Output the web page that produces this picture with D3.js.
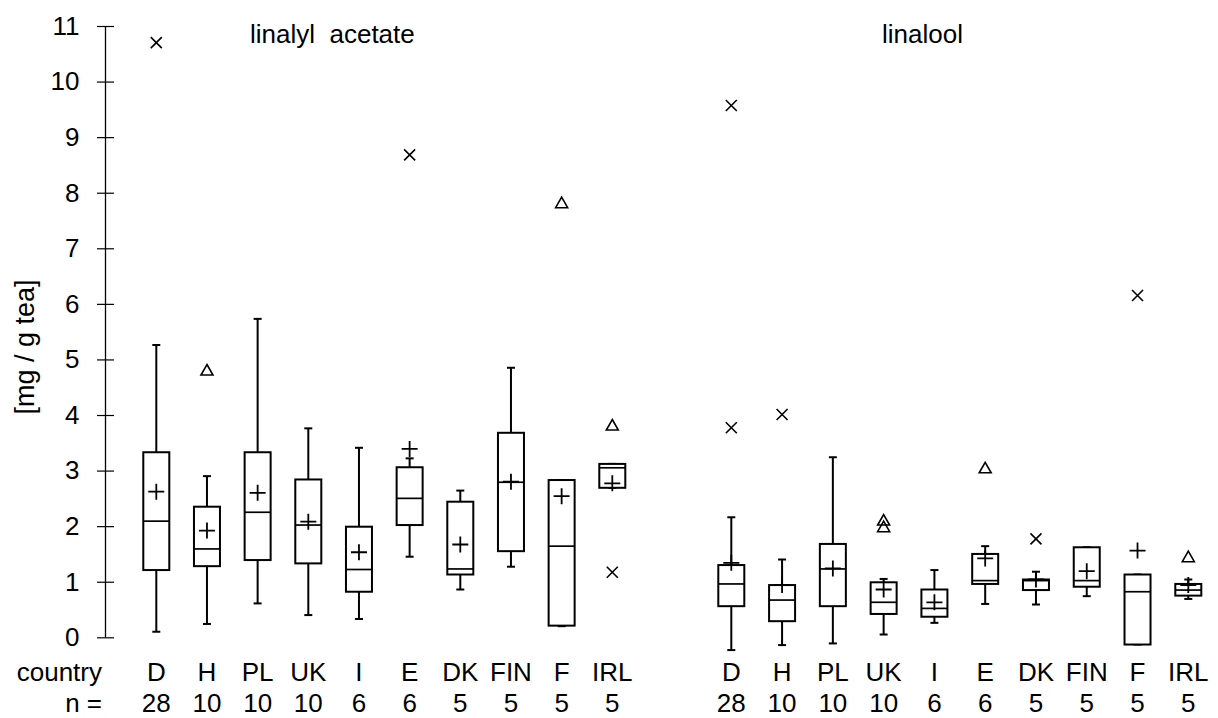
<!DOCTYPE html>
<html>
<head>
<meta charset="utf-8">
<script src="https://cdn.jsdelivr.net/npm/d3@7"></script>
<style>
  html, body { margin: 0; padding: 0; background: #fff; }
  svg { display: block; font-family: "Liberation Sans", Arial, sans-serif; }
</style>
</head>
<body>
<svg id="chart" width="1218" height="718"></svg>
<script>
// ---- data ----
const categories = ["D", "H", "PL", "UK", "I", "E", "DK", "FIN", "F", "IRL"];
const sampleSizes = [28, 10, 10, 10, 6, 6, 5, 5, 5, 5];
const yTicks = [0, 1, 2, 3, 4, 5, 6, 7, 8, 9, 10, 11];
const panelTitles = ["linalyl acetate", "linalool"];

// linalyl acetate
const acetateWhiskerLow  = [0.10, 0.24, 0.61, 0.40, 0.33, 1.45, 0.86, 1.27, 0.20, 2.69];
const acetateQ1          = [1.21, 1.28, 1.39, 1.33, 0.82, 2.02, 1.13, 1.55, 0.21, 2.69];
const acetateMedian      = [2.09, 1.59, 2.25, 2.02, 1.22, 2.50, 1.23, 2.79, 1.64, 3.05];
const acetateQ3          = [3.33, 2.35, 3.33, 2.84, 1.99, 3.06, 2.44, 3.68, 2.83, 3.12];
const acetateWhiskerHigh = [5.26, 2.90, 5.73, 3.76, 3.41, 3.22, 2.64, 4.85, 2.83, 3.12];
const acetateMean        = [2.62, 1.92, 2.60, 2.08, 1.53, 3.39, 1.67, 2.80, 2.54, 2.77];
const acetateCrosses     = [[10.70], [], [], [], [], [8.68], [], [], [], [1.17]];
const acetateTriangles   = [[], [4.81], [], [], [], [], [], [], [7.82], [3.82]];

// linalool
const linaloolWhiskerLow  = [-0.23, -0.14, -0.11, 0.05, 0.26, 0.60, 0.59, 0.74, -0.13, 0.69];
const linaloolQ1          = [0.56, 0.29, 0.56, 0.42, 0.37, 0.96, 0.85, 0.91, -0.13, 0.75];
const linaloolMedian      = [0.96, 0.67, 1.23, 0.63, 0.52, 1.02, 1.02, 1.02, 0.82, 0.85];
const linaloolQ3          = [1.30, 0.94, 1.68, 0.99, 0.86, 1.50, 1.04, 1.62, 1.13, 0.96];
const linaloolWhiskerHigh = [2.16, 1.40, 3.24, 1.05, 1.21, 1.64, 1.18, 1.62, 1.13, 1.04];
const linaloolMean        = [1.34, 0.94, 1.24, 0.86, 0.63, 1.42, 1.04, 1.19, 1.56, 0.94];
const linaloolCrosses     = [[9.57, 3.77], [4.01], [], [], [], [], [1.77], [], [6.15], []];
const linaloolTriangles   = [[], [], [], [2.11, 1.99], [], [3.05], [], [], [], [1.45]];

// ---- build ----
function buildPanel(low, q1, med, q3, high, mean, crosses, tris) {
  return categories.map((c, i) => ({
    cat: c, low: low[i], q1: q1[i], med: med[i], q3: q3[i], high: high[i],
    mean: mean[i], crosses: crosses[i], tris: tris[i]
  }));
}
const panels = [
  { title: panelTitles[0], titleX: 250, range: [156.3, 612.3],
    rows: buildPanel(acetateWhiskerLow, acetateQ1, acetateMedian, acetateQ3, acetateWhiskerHigh, acetateMean, acetateCrosses, acetateTriangles) },
  { title: panelTitles[1], titleX: 882, range: [731.3, 1188.3],
    rows: buildPanel(linaloolWhiskerLow, linaloolQ1, linaloolMedian, linaloolQ3, linaloolWhiskerHigh, linaloolMean, linaloolCrosses, linaloolTriangles) }
];

const svg = d3.select("#chart");
const y = d3.scaleLinear().domain([0, 11]).range([637.3, 26]);
const FS = 26;

// y axis
const axisX = 105.5;
const yAxis = d3.axisLeft(y).tickValues(yTicks).tickSize(0).tickPadding(26).tickFormat(d3.format("d"));
const ag = svg.append("g").attr("transform", `translate(${axisX},0)`).call(yAxis);
ag.select(".domain").attr("stroke", "#000").attr("stroke-width", 1.3).attr("d", `M0,${y(11)}V${y(0)}`);
ag.selectAll(".tick text").attr("font-size", FS).attr("font-family", "'Liberation Sans', Arial, sans-serif").attr("fill", "#000");
ag.selectAll(".tick").append("line").attr("x1", -8.5).attr("x2", 8.5).attr("stroke", "#000").attr("stroke-width", 1.2);

// y label
svg.append("text")
  .attr("transform", `translate(34,347) rotate(-90)`)
  .attr("text-anchor", "middle").attr("font-size", 27).text("[mg / g tea]");

// row labels
const rowY1 = 681, rowY2 = 712;
svg.append("text").attr("x", 102).attr("y", rowY1).attr("text-anchor", "end").attr("font-size", FS).text("country");
svg.append("text").attr("x", 102).attr("y", rowY2).attr("text-anchor", "end").attr("font-size", FS).text("n =");

const BW = 26, CAP = 4, SW = 2;

panels.forEach(p => {
  const x = d3.scalePoint().domain(categories).range(p.range);
  const g = svg.append("g");

  svg.append("text").attr("x", p.titleX).attr("y", 43).attr("font-size", FS).attr("xml:space", "preserve").text(p.title.replace(" ", "  "));

  // category and n labels
  g.selectAll(".cat").data(categories).join("text")
    .attr("x", d => x(d)).attr("y", rowY1).attr("text-anchor", "middle").attr("font-size", FS).text(d => d);
  g.selectAll(".n").data(categories).join("text")
    .attr("x", d => x(d)).attr("y", rowY2).attr("text-anchor", "middle").attr("font-size", FS)
    .text((d, i) => sampleSizes[i]);

  const b = g.selectAll(".box").data(p.rows).join("g").attr("class", "box")
    .attr("stroke", "#000").attr("fill", "none");

  // whiskers
  b.append("line").attr("x1", d => x(d.cat)).attr("x2", d => x(d.cat))
    .attr("y1", d => y(d.high)).attr("y2", d => y(d.q3)).attr("stroke-width", SW);
  b.append("line").attr("x1", d => x(d.cat)).attr("x2", d => x(d.cat))
    .attr("y1", d => y(d.q1)).attr("y2", d => y(d.low)).attr("stroke-width", SW);
  b.append("line").attr("x1", d => x(d.cat) - CAP).attr("x2", d => x(d.cat) + CAP)
    .attr("y1", d => y(d.high)).attr("y2", d => y(d.high)).attr("stroke-width", SW);
  b.append("line").attr("x1", d => x(d.cat) - CAP).attr("x2", d => x(d.cat) + CAP)
    .attr("y1", d => y(d.low)).attr("y2", d => y(d.low)).attr("stroke-width", SW);
  // box
  b.append("rect").attr("x", d => x(d.cat) - BW / 2).attr("width", BW)
    .attr("y", d => y(d.q3)).attr("height", d => Math.max(0.5, y(d.q1) - y(d.q3)))
    .attr("fill", "#fff").attr("stroke-width", SW);
  // median
  b.append("line").attr("x1", d => x(d.cat) - BW / 2).attr("x2", d => x(d.cat) + BW / 2)
    .attr("y1", d => y(d.med)).attr("y2", d => y(d.med)).attr("stroke-width", SW * 0.85);
  // mean +
  b.append("path").attr("d", d => {
    const cx = x(d.cat), cy = y(d.mean);
    return `M${cx - 8},${cy}H${cx + 8}M${cx},${cy - 8}V${cy + 8}`;
  }).attr("stroke-width", 1.8);
  // crosses
  b.selectAll(".x").data(d => d.crosses.map(v => ({ cat: d.cat, v }))).join("path")
    .attr("d", d => {
      const cx = x(d.cat), cy = y(d.v), r = 5.5;
      return `M${cx - r},${cy - r}L${cx + r},${cy + r}M${cx - r},${cy + r}L${cx + r},${cy - r}`;
    }).attr("stroke-width", 1.6);
  // triangles
  b.selectAll(".t").data(d => d.tris.map(v => ({ cat: d.cat, v }))).join("path")
    .attr("d", d => {
      const cx = x(d.cat), cy = y(d.v);
      return `M${cx},${cy - 5.5}L${cx + 6},${cy + 5}L${cx - 6},${cy + 5}Z`;
    }).attr("stroke-width", 1.6);
});
</script>
</body>
</html>
